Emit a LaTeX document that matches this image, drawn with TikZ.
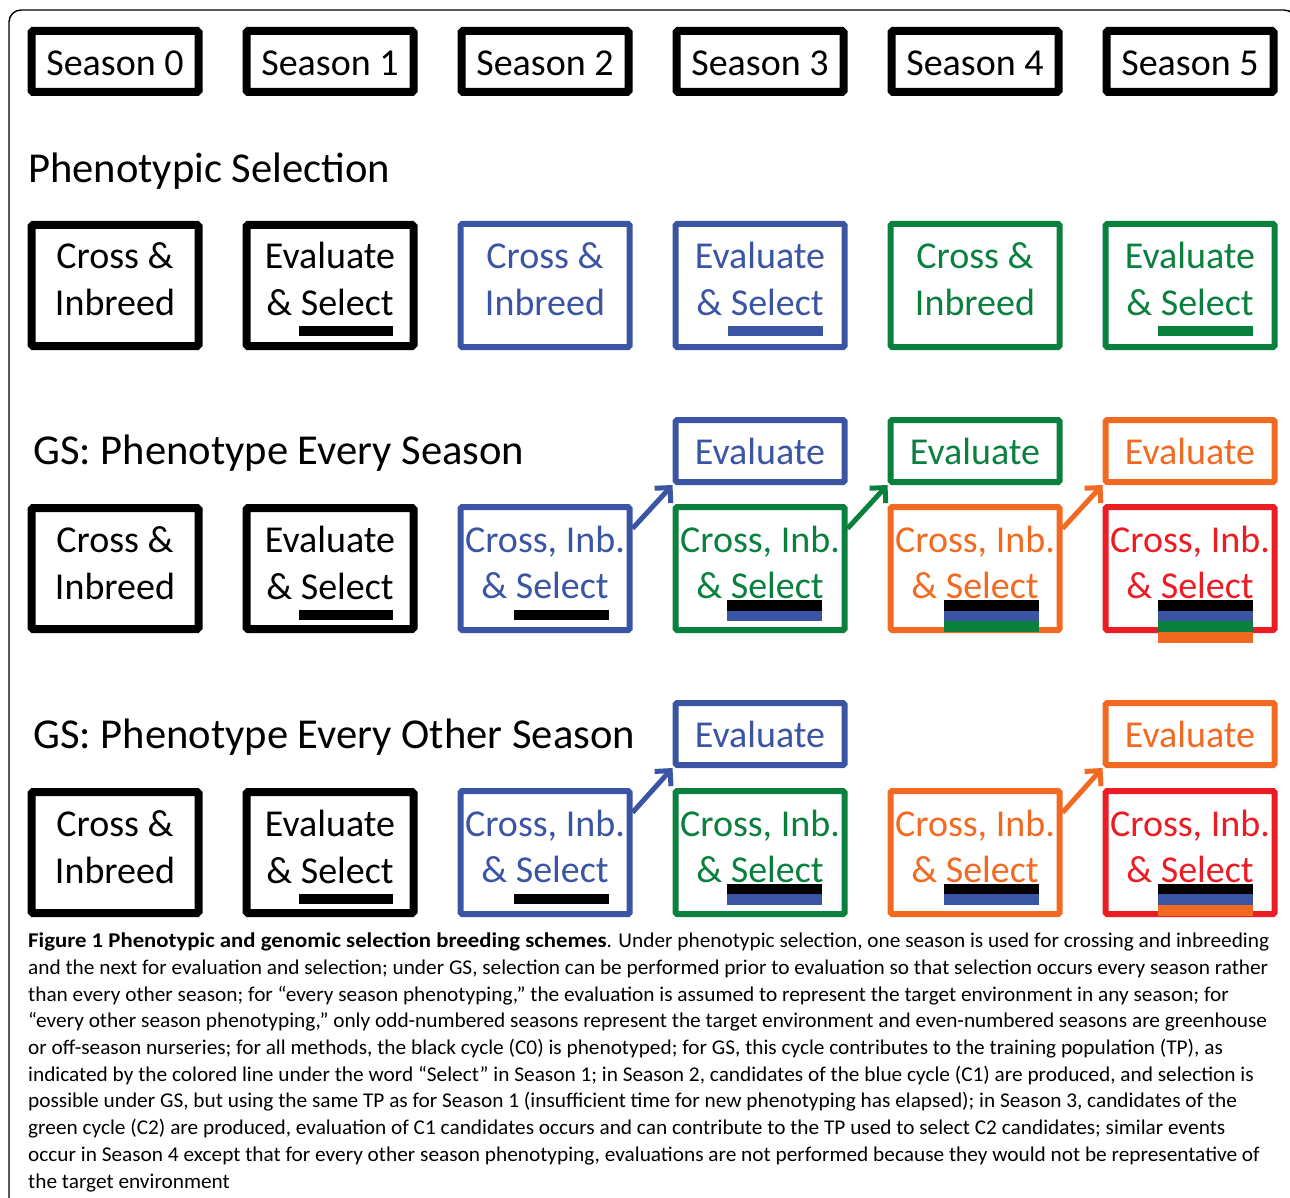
\documentclass[tikz,border=0pt]{standalone}
\usepackage{fontspec}
\setmainfont{Carlito}
\newfontfamily\capfont{Carlito}[FakeStretch=1.015,BoldFeatures={FakeStretch=1.085}]
\usetikzlibrary{arrows.meta,calc}
\definecolor{cblue}{RGB}{59,84,164}
\definecolor{cgreen}{RGB}{10,128,62}
\definecolor{corange}{RGB}{242,106,34}
\definecolor{cred}{RGB}{236,28,36}
\begin{document}
\begin{tikzpicture}[x=1pt,y=-1pt,
  kbox/.style={draw=black,line width=8pt,minimum width=167pt,minimum height=121pt,inner sep=0pt,rounded corners=1.5pt},
  cbox/.style={draw=#1,line width=6pt,minimum width=169pt,minimum height=123pt,inner sep=0pt,rounded corners=1.5pt},
  hbox/.style={draw=black,line width=8pt,minimum width=167pt,minimum height=61pt,inner sep=0pt,rounded corners=1.5pt},
  ebox/.style={draw=#1,line width=6pt,minimum width=169pt,minimum height=62pt,inner sep=0pt,rounded corners=1.5pt},
  btxt/.style={anchor=base,inner sep=0pt,font=\fontsize{38}{45}\selectfont,text=#1},
  htxt/.style={anchor=base,inner sep=0pt,font=\fontsize{38}{46}\selectfont},
  ttxt/.style={anchor=base west,inner sep=0pt,font=\fontsize{42.6}{50}\selectfont},
  arr/.style={draw=#1,line width=5pt,-{Straight Barb[length=11pt,width=22pt]}}
]
\useasboundingbox (0,0) rectangle (1290,1198);
\begin{scope}
\clip (0,0) rectangle (1290,1198);
\draw[line width=1.4pt,rounded corners=12pt] (9,1240) -- (9,10) -- (1296,10) -- (1296,1240);
\end{scope}

% headers
\foreach \i in {0,...,5}{
  \node[hbox] (h\i) at (115+215*\i,61.5) {};
  \node[htxt] (h\i t) at ($(h\i)+(0,14.5)$) {Season \i};
}

% titles
\node[ttxt] (t1) at (28,183) {Phenotypic Selection};
\node[ttxt] (t2) at (33,464) {GS: Phenotype Every Season};
\node[ttxt] (t3) at (33,748) {GS: Phenotype Every Other Season};

% ---------- Row 1: phenotypic selection
\node[kbox] (p0) at (115,285.5) {};
\node[kbox] (p1) at (330,285.5) {};
\node[cbox=cblue] (p2) at (545,285.5) {};
\node[cbox=cblue] (p3) at (760,285.5) {};
\node[cbox=cgreen] (p4) at (975,285.5) {};
\node[cbox=cgreen] (p5) at (1190,285.5) {};
\node[btxt=black] (p0a) at ($(p0)+(0,-17)$) {Cross \&};
\node[btxt=black] (p0b) at ($(p0)+(0,30)$) {Inbreed};
\node[btxt=black] (p1a) at ($(p1)+(0,-17)$) {Evaluate};
\node[btxt=black] (p1b) at ($(p1)+(0,30)$) {\& Select};
\node[btxt=cblue] (p2a) at ($(p2)+(0,-17)$) {Cross \&};
\node[btxt=cblue] (p2b) at ($(p2)+(0,30)$) {Inbreed};
\node[btxt=cblue] (p3a) at ($(p3)+(0,-17)$) {Evaluate};
\node[btxt=cblue] (p3b) at ($(p3)+(0,30)$) {\& Select};
\node[btxt=cgreen] (p4a) at ($(p4)+(0,-17)$) {Cross \&};
\node[btxt=cgreen] (p4b) at ($(p4)+(0,30)$) {Inbreed};
\node[btxt=cgreen] (p5a) at ($(p5)+(0,-17)$) {Evaluate};
\node[btxt=cgreen] (p5b) at ($(p5)+(0,30)$) {\& Select};
\fill[black] ($(p1)+(-31,40.5)$) rectangle ++(94,10);
\fill[cblue] ($(p3)+(-32,40.5)$) rectangle ++(95,10);
\fill[cgreen] ($(p5)+(-32,40.5)$) rectangle ++(95,10);

% ---------- Row 2: GS every season
\node[ebox=cblue] (ae3) at (760,451) {};
\node[ebox=cgreen] (ae4) at (975,451) {};
\node[ebox=corange] (ae5) at (1190,451) {};
\node[btxt=cblue] (ae3t) at ($(ae3)+(0,13)$) {Evaluate};
\node[btxt=cgreen] (ae4t) at ($(ae4)+(0,13)$) {Evaluate};
\node[btxt=corange] (ae5t) at ($(ae5)+(0,13)$) {Evaluate};

\node[kbox] (a0) at (115,568.5) {};
\node[kbox] (a1) at (330,568.5) {};
\node[cbox=cblue] (a2) at (545,568.5) {};
\node[cbox=cgreen] (a3) at (760,568.5) {};
\node[cbox=corange] (a4) at (975,568.5) {};
\node[cbox=cred] (a5) at (1190,568.5) {};
\node[btxt=black] (a0a) at ($(a0)+(0,-16)$) {Cross \&};
\node[btxt=black] (a0b) at ($(a0)+(0,31)$) {Inbreed};
\node[btxt=black] (a1a) at ($(a1)+(0,-16)$) {Evaluate};
\node[btxt=black] (a1b) at ($(a1)+(0,31)$) {\& Select};
\node[btxt=cblue] (a2a) at ($(a2)+(0,-16)$) {Cross, Inb.};
\node[btxt=cblue] (a2b) at ($(a2)+(0,30)$) {\& Select};
\node[btxt=cgreen] (a3a) at ($(a3)+(0,-16)$) {Cross, Inb.};
\node[btxt=cgreen] (a3b) at ($(a3)+(0,30)$) {\& Select};
\node[btxt=corange] (a4a) at ($(a4)+(0,-16)$) {Cross, Inb.};
\node[btxt=corange] (a4b) at ($(a4)+(0,30)$) {\& Select};
\node[btxt=cred] (a5a) at ($(a5)+(0,-16)$) {Cross, Inb.};
\node[btxt=cred] (a5b) at ($(a5)+(0,30)$) {\& Select};
\fill[black] ($(a1)+(-31,41.5)$) rectangle ++(94,10);
\fill[black] ($(a2)+(-31,41.5)$) rectangle ++(95,10);
\fill[black] ($(a3)+(-33,31.5)$) rectangle ++(95,10.5);
\fill[cblue] ($(a3)+(-33,42)$) rectangle ++(95,10.5);
\fill[black] ($(a4)+(-31,31.5)$) rectangle ++(95,10.5);
\fill[cblue] ($(a4)+(-31,42)$) rectangle ++(95,10.5);
\fill[cgreen] ($(a4)+(-31,52.5)$) rectangle ++(95,11);
\fill[black] ($(a5)+(-32,31.5)$) rectangle ++(95,10.5);
\fill[cblue] ($(a5)+(-32,42)$) rectangle ++(95,10.5);
\fill[cgreen] ($(a5)+(-32,52.5)$) rectangle ++(95,10.5);
\fill[corange] ($(a5)+(-32,63)$) rectangle ++(95,11);

\draw[arr=cblue] ($(a2.north east)!0.19!(a2.south east)$) -- (ae3.south west);
\draw[arr=cgreen] ($(a3.north east)!0.19!(a3.south east)$) -- (ae4.south west);
\draw[arr=corange] ($(a4.north east)!0.19!(a4.south east)$) -- (ae5.south west);

% ---------- Row 3: GS every other season
\node[ebox=cblue] (be3) at (760,734) {};
\node[ebox=corange] (be5) at (1190,734) {};
\node[btxt=cblue] (be3t) at ($(be3)+(0,13)$) {Evaluate};
\node[btxt=corange] (be5t) at ($(be5)+(0,13)$) {Evaluate};

\node[kbox] (b0) at (115,852.5) {};
\node[kbox] (b1) at (330,852.5) {};
\node[cbox=cblue] (b2) at (545,852.5) {};
\node[cbox=cgreen] (b3) at (760,852.5) {};
\node[cbox=corange] (b4) at (975,852.5) {};
\node[cbox=cred] (b5) at (1190,852.5) {};
\node[btxt=black] (b0a) at ($(b0)+(0,-16)$) {Cross \&};
\node[btxt=black] (b0b) at ($(b0)+(0,31)$) {Inbreed};
\node[btxt=black] (b1a) at ($(b1)+(0,-16)$) {Evaluate};
\node[btxt=black] (b1b) at ($(b1)+(0,31)$) {\& Select};
\node[btxt=cblue] (b2a) at ($(b2)+(0,-16)$) {Cross, Inb.};
\node[btxt=cblue] (b2b) at ($(b2)+(0,30)$) {\& Select};
\node[btxt=cgreen] (b3a) at ($(b3)+(0,-16)$) {Cross, Inb.};
\node[btxt=cgreen] (b3b) at ($(b3)+(0,30)$) {\& Select};
\node[btxt=corange] (b4a) at ($(b4)+(0,-16)$) {Cross, Inb.};
\node[btxt=corange] (b4b) at ($(b4)+(0,30)$) {\& Select};
\node[btxt=cred] (b5a) at ($(b5)+(0,-16)$) {Cross, Inb.};
\node[btxt=cred] (b5b) at ($(b5)+(0,30)$) {\& Select};
\fill[black] ($(b1)+(-31,41)$) rectangle ++(94,10);
\fill[black] ($(b2)+(-31,41)$) rectangle ++(95,10);
\fill[black] ($(b3)+(-33,31)$) rectangle ++(95,10.5);
\fill[cblue] ($(b3)+(-33,41.5)$) rectangle ++(95,10.5);
\fill[black] ($(b4)+(-31,31)$) rectangle ++(95,10.5);
\fill[cblue] ($(b4)+(-31,41.5)$) rectangle ++(95,10.5);
\fill[black] ($(b5)+(-32,31)$) rectangle ++(95,10.5);
\fill[cblue] ($(b5)+(-32,41.5)$) rectangle ++(95,10.5);
\fill[corange] ($(b5)+(-32,52)$) rectangle ++(95,11);

\draw[arr=cblue] ($(b2.north east)!0.19!(b2.south east)$) -- (be3.south west);
\draw[arr=corange] ($(b4.north east)!0.19!(b4.south east)$) -- (be5.south west);

% ---------- caption
\node[anchor=north west,inner sep=0pt,align=left,font=\capfont\fontsize{21}{26.67}\selectfont] (cap) at (28,933) {%
\textbf{Figure 1 Phenotypic and genomic selection breeding schemes}. Under phenotypic selection, one season is used for crossing and inbreeding\\
and the next for evaluation and selection; under GS, selection can be performed prior to evaluation so that selection occurs every season rather\\
than every other season; for “every season phenotyping,” the evaluation is assumed to represent the target environment in any season; for\\
“every other season phenotyping,” only odd-numbered seasons represent the target environment and even-numbered seasons are greenhouse\\
or off-season nurseries; for all methods, the black cycle (C0) is phenotyped; for GS, this cycle contributes to the training population (TP), as\\
indicated by the colored line under the word “Select” in Season 1; in Season 2, candidates of the blue cycle (C1) are produced, and selection is\\
possible under GS, but using the same TP as for Season 1 (insufficient time for new phenotyping has elapsed); in Season 3, candidates of the\\
green cycle (C2) are produced, evaluation of C1 candidates occurs and can contribute to the TP used to select C2 candidates; similar events\\
occur in Season 4 except that for every other season phenotyping, evaluations are not performed because they would not be representative of\\
the target environment};
\end{tikzpicture}
\end{document}
